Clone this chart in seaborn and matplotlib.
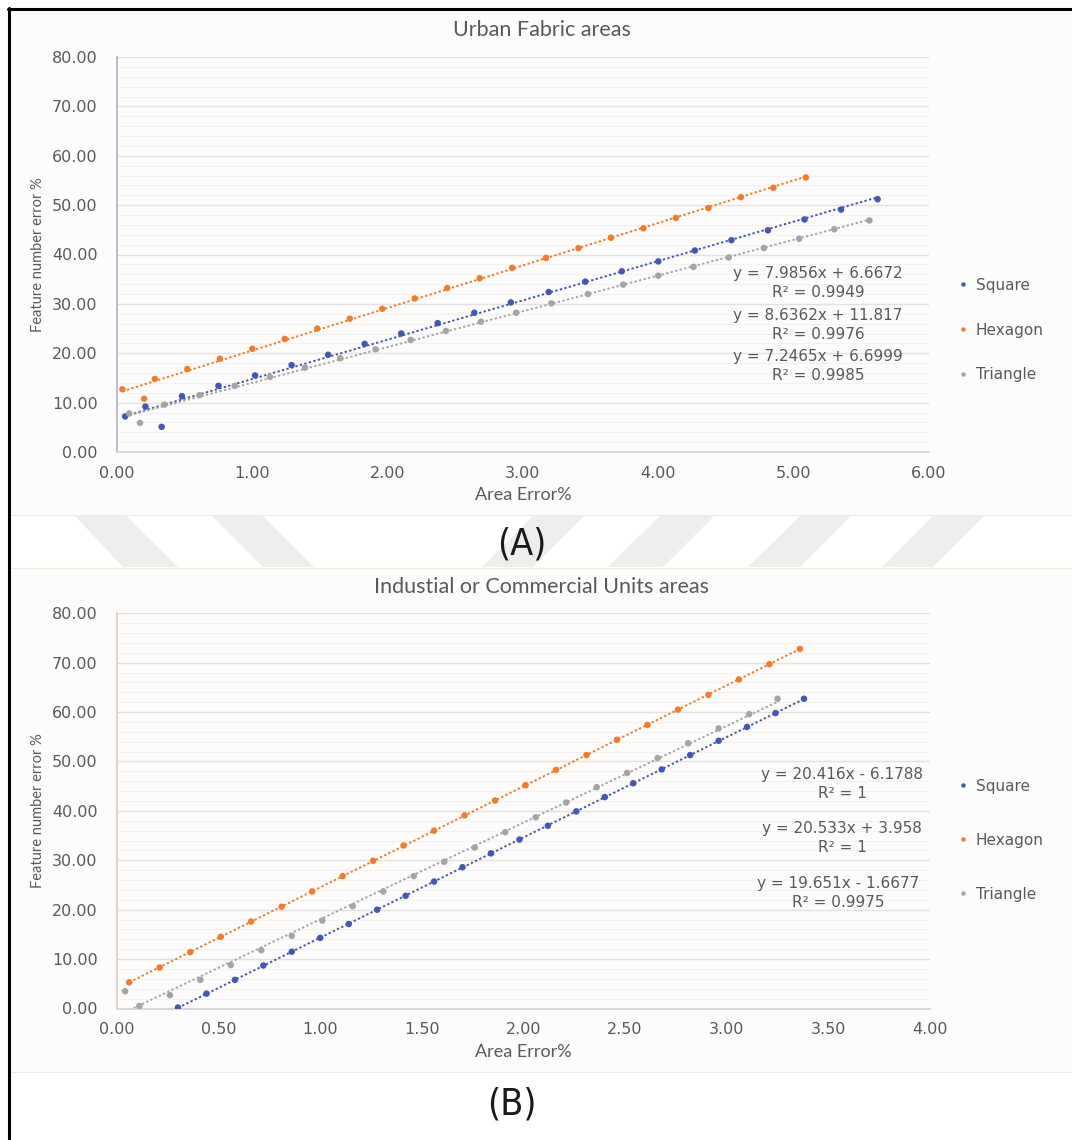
import numpy as np
import pandas as pd
import matplotlib
matplotlib.use("Agg")
import matplotlib.pyplot as plt
from matplotlib.patches import Rectangle, Polygon
from matplotlib.lines import Line2D
import seaborn as sns

# ---------------- data ----------------
series_names = ["Square", "Hexagon", "Triangle"]

a_square_x = [0.06, 0.21, 0.33, 0.48, 0.75, 1.02, 1.29, 1.56, 1.83, 2.10, 2.37, 2.64,
              2.91, 3.19, 3.46, 3.73, 4.00, 4.27, 4.54, 4.81, 5.08, 5.35, 5.62]
a_square_y = [7.2, 9.2, 5.1, 11.3, 13.4, 15.5, 17.6, 19.7, 21.9, 24.0, 26.1, 28.2,
              30.3, 32.4, 34.5, 36.6, 38.6, 40.8, 42.9, 44.9, 47.1, 49.1, 51.2]
a_hexagon_x = [0.04, 0.20, 0.28, 0.52, 0.76, 1.00, 1.24, 1.48, 1.72, 1.96, 2.20, 2.44,
               2.68, 2.92, 3.17, 3.41, 3.65, 3.89, 4.13, 4.37, 4.61, 4.85, 5.09]
a_hexagon_y = [12.7, 10.8, 14.8, 16.8, 18.9, 20.9, 22.9, 25.0, 27.0, 29.0, 31.1, 33.2,
               35.2, 37.3, 39.3, 41.3, 43.4, 45.3, 47.4, 49.4, 51.6, 53.5, 55.6]
a_triangle_x = [0.09, 0.17, 0.35, 0.61, 0.87, 1.13, 1.39, 1.65, 1.91, 2.17, 2.43, 2.69,
                2.95, 3.21, 3.48, 3.74, 4.00, 4.26, 4.52, 4.78, 5.04, 5.30, 5.56]
a_triangle_y = [7.8, 5.9, 9.6, 11.5, 13.4, 15.2, 17.1, 19.0, 20.8, 22.7, 24.5, 26.4,
                28.2, 30.1, 32.0, 33.9, 35.7, 37.5, 39.4, 41.3, 43.2, 45.1, 46.9]

b_square_x = [0.30, 0.44, 0.58, 0.72, 0.86, 1.00, 1.14, 1.28, 1.42, 1.56, 1.70, 1.84,
              1.98, 2.12, 2.26, 2.40, 2.54, 2.68, 2.82, 2.96, 3.10, 3.24, 3.38]
b_square_y = [0.2, 3.0, 5.8, 8.7, 11.5, 14.3, 17.1, 20.0, 22.8, 25.7, 28.6, 31.4,
              34.2, 37.0, 39.9, 42.8, 45.6, 48.4, 51.3, 54.2, 57.0, 59.8, 62.7]
b_hexagon_x = [0.06, 0.21, 0.36, 0.51, 0.66, 0.81, 0.96, 1.11, 1.26, 1.41, 1.56, 1.71,
               1.86, 2.01, 2.16, 2.31, 2.46, 2.61, 2.76, 2.91, 3.06, 3.21, 3.36]
b_hexagon_y = [5.3, 8.3, 11.4, 14.5, 17.6, 20.6, 23.7, 26.8, 29.9, 33.0, 36.0, 39.1,
               42.1, 45.2, 48.3, 51.3, 54.4, 57.4, 60.5, 63.5, 66.6, 69.7, 72.8]
b_triangle_x = [0.04, 0.11, 0.26, 0.41, 0.56, 0.71, 0.86, 1.01, 1.16, 1.31, 1.46, 1.61,
                1.76, 1.91, 2.06, 2.21, 2.36, 2.51, 2.66, 2.81, 2.96, 3.11, 3.25]
b_triangle_y = [3.5, 0.5, 2.7, 5.8, 8.8, 11.8, 14.7, 17.8, 20.7, 23.7, 26.8, 29.7,
                32.6, 35.7, 38.7, 41.7, 44.8, 47.7, 50.7, 53.7, 56.7, 59.6, 62.7]

a_equations = ["y = 7.9856x + 6.6672\nR² = 0.9949",
               "y = 8.6362x + 11.817\nR² = 0.9976",
               "y = 7.2465x + 6.6999\nR² = 0.9985"]
b_equations = ["y = 20.416x - 6.1788\nR² = 1",
               "y = 20.533x + 3.958\nR² = 1",
               "y = 19.651x - 1.6677\nR² = 0.9975"]

title_a = "Urban Fabric areas"
title_b = "Industial or Commercial Units areas"
x_label = "Area Error%"
y_label = "Feature number error %"
x_ticks_a = [0, 1, 2, 3, 4, 5, 6]
x_ticks_b = [0, 0.5, 1, 1.5, 2, 2.5, 3, 3.5, 4]
y_ticks = [0, 10, 20, 30, 40, 50, 60, 70, 80]

# ---------------- style ----------------
sns.set_style("white")
plt.rcParams["font.family"] = ["DejaVu Sans"]
NARROW = ["Lato", "DejaVu Sans"]

colors = {"Square": "#4458ad", "Hexagon": "#ed7d31", "Triangle": "#a5a5a5"}
TXT = "#595959"

W, H = 1072, 1140
fig = plt.figure(figsize=(W / 100, H / 100), dpi=100)
fig.patch.set_facecolor("white")

def fx(px):
    return px / W

def fy(py):
    return 1 - py / H

# panel backgrounds
PANEL = "#fdfcfb"
fig.patches.append(Rectangle((fx(10), fy(515)), fx(1072) - fx(10), fy(10) - fy(515),
                             transform=fig.transFigure, facecolor=PANEL,
                             edgecolor="#efebe7", lw=0.8, zorder=-5))
fig.patches.append(Rectangle((fx(10), fy(1072)), fx(1072) - fx(10), fy(568) - fy(1072),
                             transform=fig.transFigure, facecolor=PANEL,
                             edgecolor="#efebe7", lw=0.8, zorder=-5))

# watermark stripes in the band between panels
stripes = [((75, 126), (123, 178)), ((212, 263), (263, 314)),
           ((533, 584), (482, 533)), ((660, 714), (608, 663)),
           ((800, 851), (748, 800)), ((933, 984), (882, 933))]
for (t0, t1), (b0, b1) in stripes:
    poly = [(fx(t0), fy(516)), (fx(t1), fy(516)), (fx(b1), fy(567)), (fx(b0), fy(567))]
    fig.patches.append(Polygon(poly, closed=True, transform=fig.transFigure,
                               facecolor="#ededed", edgecolor="none", zorder=-5))

# black frame lines
fig.add_artist(Line2D([fx(9), fx(9)], [fy(8), fy(1140)], transform=fig.transFigure,
                      color="black", lw=2.2))
fig.add_artist(Line2D([fx(8), fx(1072)], [fy(9), fy(9)], transform=fig.transFigure,
                      color="black", lw=2.2))


def draw_panel(rect, xs, ys, xlim, xticks, title, equations, eq_pos, leg_y, leg_sp,
               lspine_color, title_y, xlabel_y):
    ax = fig.add_axes(rect)
    ax.set_facecolor(PANEL)
    rows = []
    for name, x, y in zip(series_names, xs, ys):
        rows.append(pd.DataFrame({"x": x, "y": y, "series": name}))
    df = pd.concat(rows, ignore_index=True)

    for name in series_names:
        sub = df[df["series"] == name]
        sns.regplot(data=sub, x="x", y="y", ax=ax, scatter=False, ci=None,
                    truncate=True, color=colors[name],
                    line_kws=dict(lw=1.4, linestyle=(0, (1.2, 1.2)), zorder=2))
    sns.scatterplot(data=df, x="x", y="y", hue="series", hue_order=series_names,
                    palette=colors, s=22, linewidth=0, ax=ax, zorder=3, legend=False)

    ax.set_xlim(xlim)
    ax.set_ylim(0, 80)
    ax.set_xticks(xticks)
    ax.set_yticks(y_ticks)
    ax.set_yticks(np.arange(0, 81, 2), minor=True)
    ax.xaxis.set_major_formatter(matplotlib.ticker.FormatStrFormatter("%.2f"))
    ax.yaxis.set_major_formatter(matplotlib.ticker.FormatStrFormatter("%.2f"))
    ax.grid(axis="y", which="major", color="#e4e2e0", lw=1.0, zorder=0)
    ax.grid(axis="y", which="minor", color="#f4f2f0", lw=0.8, zorder=0)
    ax.set_axisbelow(True)
    for s in ["top", "right"]:
        ax.spines[s].set_visible(False)
    ax.spines["left"].set_color(lspine_color)
    ax.spines["bottom"].set_color("#d0d0d8")
    ax.spines["left"].set_linewidth(1.2)
    ax.spines["bottom"].set_linewidth(1.2)
    ax.tick_params(axis="both", which="major", direction="out", length=5, width=1,
                   labelsize=11.5, labelcolor=TXT, pad=7)
    ax.tick_params(axis="y", colors=lspine_color, labelcolor=TXT, pad=9)
    ax.tick_params(axis="x", colors="#d0d0d8", labelcolor=TXT, pad=5)
    ax.tick_params(which="minor", length=0)
    ax.set_xlabel("")
    ax.set_ylabel("")

    fig.text(fx(542), fy(title_y), title, ha="center", va="center", fontsize=15.5,
             color=TXT, family=NARROW)
    fig.text(fx(523), fy(xlabel_y), x_label, ha="center", va="center", fontsize=13,
             color=TXT, family=NARROW)
    y0, y1 = rect[1], rect[1] + rect[3]
    fig.text(fx(38), (y0 + y1) / 2, y_label, ha="center", va="center", rotation=90,
             fontsize=10.5, color=TXT, family=NARROW)

    for eq, (ex, ey) in zip(equations, eq_pos):
        fig.text(fx(ex), fy(ey), eq, ha="center", va="center", fontsize=11,
                 color=TXT, linespacing=1.3)

    handles = [Line2D([], [], marker="o", linestyle="none", markersize=3.2,
                      markerfacecolor=colors[n], markeredgewidth=0) for n in series_names]
    leg = ax.legend(handles, series_names, loc="upper left",
                    bbox_to_anchor=(fx(945), fy(leg_y)), bbox_transform=fig.transFigure,
                    frameon=False, fontsize=11, handlelength=0.6, handletextpad=0.5,
                    labelspacing=leg_sp)
    for t in leg.get_texts():
        t.set_color(TXT)
    return ax


draw_panel([fx(117), fy(452), fx(929) - fx(117), fy(57) - fy(452)],
           [a_square_x, a_hexagon_x, a_triangle_x],
           [a_square_y, a_hexagon_y, a_triangle_y],
           (0, 6), x_ticks_a, title_a, a_equations,
           [(818, 283), (818, 325), (818, 366)], 264, 1.95, "#aeaecc", 30, 495)

draw_panel([fx(117), fy(1008.5), fx(930) - fx(117), fy(613.3) - fy(1008.5)],
           [b_square_x, b_hexagon_x, b_triangle_x],
           [b_square_y, b_hexagon_y, b_triangle_y],
           (0, 4), x_ticks_b, title_b, b_equations,
           [(842, 784), (842, 838), (838, 893)], 765, 2.55, "#d8cfc6", 587, 1052)

fig.text(fx(522), fy(545), "(A)", ha="center", va="center", fontsize=27,
         color="#1a1a1a", family="DejaVu Sans", fontstretch="condensed")
fig.text(fx(512), fy(1105), "(B)", ha="center", va="center", fontsize=27,
         color="#1a1a1a", family="DejaVu Sans", fontstretch="condensed")

fig.savefig("out.png", dpi=100, facecolor="white")
